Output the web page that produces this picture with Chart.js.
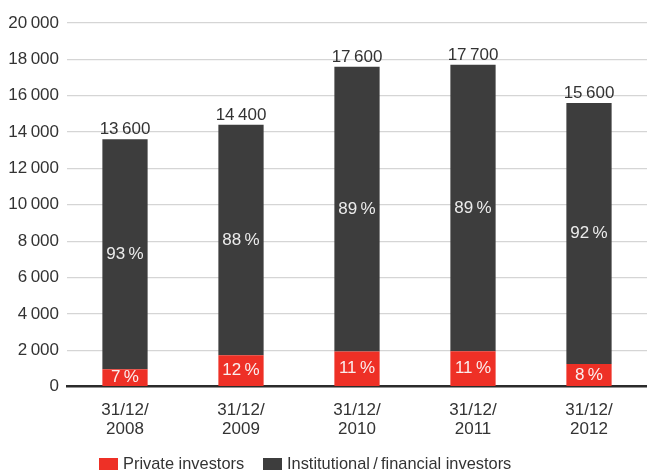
<!DOCTYPE html>
<html>
<head>
<meta charset="utf-8">
<script src="https://cdn.jsdelivr.net/npm/chart.js@4/dist/chart.umd.min.js"></script>
<style>
  html, body { margin: 0; padding: 0; background: #ffffff; }
  #wrap { width: 647px; height: 470px; position: relative; }
</style>
</head>
<body>
<div id="wrap"><canvas id="chart"></canvas></div>
<script>
// Shareholder structure at year end
const categories = [['31/12/', '2008'], ['31/12/', '2009'], ['31/12/', '2010'], ['31/12/', '2011'], ['31/12/', '2012']];
const totals = [13600, 14400, 17600, 17700, 15600];
const privateShare = [7, 12, 11, 11, 8];
const institutionalShare = [93, 88, 89, 89, 92];
const seriesNames = ['Private investors', 'Institutional\u2009/\u2009financial investors'];

const privateValues = totals.map((t, i) => t * privateShare[i] / 100);
const institutionalValues = totals.map((t, i) => t * institutionalShare[i] / 100);

const FONT = '"Liberation Sans", Arial, Helvetica, sans-serif';
const RED = '#ee3026';
const DARK = '#3d3d3d';
const TEXT = '#333333';

// Thousands grouped with a thin space: 13 600
function groupThousands(v) {
  const s = String(Math.round(v));
  return s.length > 3 ? s.slice(0, -3) + '\u2009' + s.slice(-3) : s;
}

const valueLabels = {
  id: 'valueLabels',
  afterDatasetsDraw(chart) {
    const ctx = chart.ctx;
    const mPriv = chart.getDatasetMeta(0);
    const mInst = chart.getDatasetMeta(1);
    ctx.save();
    ctx.font = '17px ' + FONT;
    ctx.textAlign = 'center';
    mPriv.data.forEach((bar, i) => {
      const top = mInst.data[i];
      // total above the stack
      ctx.fillStyle = TEXT;
      ctx.textBaseline = 'alphabetic';
      ctx.fillText(groupThousands(totals[i]), top.x, top.y - 5);
      // shares inside the segments
      ctx.textBaseline = 'middle';
      ctx.fillStyle = '#ececec';
      ctx.fillText(institutionalShare[i] + '\u2009%', top.x, (top.y + top.base) / 2);
      ctx.fillStyle = '#fbeeee';
      ctx.fillText(privateShare[i] + '\u2009%', bar.x, (bar.y + bar.base) / 2);
    });
    ctx.restore();
  }
};

const bottomLegend = {
  id: 'bottomLegend',
  afterDraw(chart) {
    const ctx = chart.ctx;
    const items = [
      { x: 99, color: chart.data.datasets[0].backgroundColor, text: chart.data.datasets[0].label },
      { x: 263, color: chart.data.datasets[1].backgroundColor, text: chart.data.datasets[1].label }
    ];
    ctx.save();
    ctx.font = '16.4px ' + FONT;
    ctx.textBaseline = 'alphabetic';
    ctx.textAlign = 'left';
    items.forEach(it => {
      ctx.fillStyle = it.color;
      ctx.fillRect(it.x, 458, 19, 14);
      ctx.fillStyle = TEXT;
      ctx.fillText(it.text, it.x + 24, 469);
    });
    ctx.restore();
  }
};

new Chart(document.getElementById('chart'), {
  type: 'bar',
  data: {
    labels: categories,
    datasets: [
      { label: seriesNames[0], data: privateValues, backgroundColor: RED,
        barPercentage: 0.39, categoryPercentage: 1.0 },
      { label: seriesNames[1], data: institutionalValues, backgroundColor: DARK,
        barPercentage: 0.39, categoryPercentage: 1.0 }
    ]
  },
  options: {
    responsive: true,
    maintainAspectRatio: false,
    animation: false,
    devicePixelRatio: 1,
    layout: { padding: { top: 23, right: -8, bottom: 17, left: 0 } },
    plugins: { legend: { display: false }, tooltip: { enabled: false } },
    scales: {
      x: {
        stacked: true,
        z: 1,
        grid: { display: false, drawTicks: false },
        border: { display: true, color: '#2b2b2b', width: 2.5 },
        ticks: {
          color: TEXT, padding: 14, maxRotation: 0, autoSkip: false,
          font: { family: FONT, size: 17, lineHeight: 1.13 }
        }
      },
      y: {
        stacked: true,
        min: 0,
        max: 20000,
        afterFit(scale) { scale.width = 67; },
        border: { display: false },
        grid: {
          drawTicks: false,
          lineWidth: 1.2,
          color: (c) => (c.tick && c.tick.value === 0) ? 'rgba(0,0,0,0)' : '#d5d5d5'
        },
        ticks: {
          stepSize: 2000, padding: 8, color: TEXT,
          font: { family: FONT, size: 17 },
          callback: (v) => groupThousands(v)
        }
      }
    }
  },
  plugins: [valueLabels, bottomLegend]
});
</script>
</body>
</html>
